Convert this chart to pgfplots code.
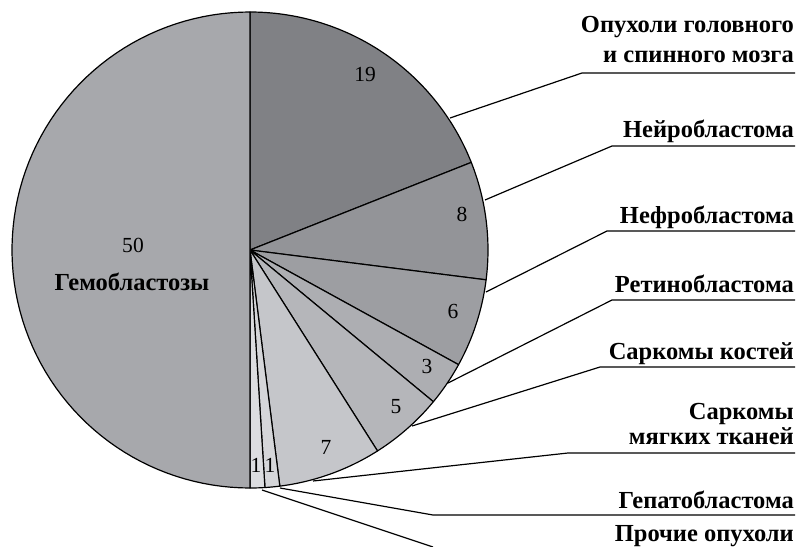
\documentclass[border=0pt]{standalone}
\usepackage{pgfplots}
\pgfplotsset{compat=1.18}
\usepackage{fontspec}
\setmainfont{Liberation Serif}[BoldFont={Liberation Serif Bold}]
\definecolor{s1}{HTML}{808185}
\definecolor{s2}{HTML}{939498}
\definecolor{s3}{HTML}{9D9EA2}
\definecolor{s4}{HTML}{ADAEB2}
\definecolor{s5}{HTML}{B5B6BA}
\definecolor{s6}{HTML}{C5C6CA}
\definecolor{s7}{HTML}{D5D6D9}
\definecolor{s8}{HTML}{DCDDE0}
\definecolor{s9}{HTML}{A7A8AC}
\newcommand\lab{\fontsize{24.5bp}{29bp}\selectfont\bfseries}
\newcommand\num{\fontsize{21.5bp}{25bp}\selectfont}
\begin{document}
\begin{tikzpicture}
\begin{axis}[width=800bp,height=547bp,scale only axis,hide axis,
  xmin=0,xmax=800,ymin=0,ymax=547,y dir=reverse,clip=false,
  anchor=south west,at={(0,0)}]
\def\cum{0}
\pgfplotsforeachungrouped \v/\c in {19/s1,8/s2,6/s3,3/s4,5/s5,7/s6,1/s7,1/s8,50/s9}{%
  \pgfmathsetmacro\a{90-3.6*\cum}%
  \pgfmathsetmacro\b{90-3.6*(\cum+\v)}%
  \edef\doslice{\noexpand\addplot[draw=black,line width=1.2pt,fill=\c,line join=round,domain=\b:\a,samples=80,variable=\noexpand\t] ({250+238*cos(\noexpand\t)},{250-238*sin(\noexpand\t)}) -- (axis cs:250,250) -- cycle;}%
  \doslice
  \pgfmathsetmacro\cum{\cum+\v}%
}
% leader lines
\addplot[black,line width=1.2pt] coordinates {(450,118) (582,73) (795,73)};
\addplot[black,line width=1.2pt] coordinates {(485,200) (612,146) (795,146)};
\addplot[black,line width=1.2pt] coordinates {(486,292) (607,231) (795,231)};
\addplot[black,line width=1.2pt] coordinates {(448,383) (612,300) (795,300)};
\addplot[black,line width=1.2pt] coordinates {(412,426) (600,367) (795,367)};
\addplot[black,line width=1.2pt] coordinates {(313,481) (568,453) (795,453)};
\addplot[black,line width=1.2pt] coordinates {(280,488) (433,515) (795,515)};
\addplot[black,line width=1.2pt] coordinates {(262,490) (433,547)};
% category labels
\node[anchor=base east,inner sep=0pt] at (axis cs:794,33) {\lab Опухоли головного};
\node[anchor=base east,inner sep=0pt] at (axis cs:794,63) {\lab и спинного мозга};
\node[anchor=base east,inner sep=0pt] at (axis cs:794,137) {\lab Нейробластома};
\node[anchor=base east,inner sep=0pt] at (axis cs:794,223) {\lab Нефробластома};
\node[anchor=base east,inner sep=0pt] at (axis cs:794,292) {\lab Ретинобластома};
\node[anchor=base east,inner sep=0pt] at (axis cs:794,359) {\lab Саркомы костей};
\node[anchor=base east,inner sep=0pt] at (axis cs:794,419) {\lab Саркомы};
\node[anchor=base east,inner sep=0pt] at (axis cs:794,444) {\lab мягких тканей};
\node[anchor=base east,inner sep=0pt] at (axis cs:794,508) {\lab Гепатобластома};
\node[anchor=base east,inner sep=0pt] at (axis cs:794,541) {\lab Прочие опухоли};
\node[anchor=base,inner sep=0pt] at (axis cs:132,290) {\lab Гемобластозы};
% values
\node[anchor=base,inner sep=0pt] at (axis cs:133,252) {\num 50};
\node[anchor=base,inner sep=0pt] at (axis cs:365,82) {\num 19};
\node[anchor=base,inner sep=0pt] at (axis cs:462,221) {\num 8};
\node[anchor=base,inner sep=0pt] at (axis cs:453,318) {\num 6};
\node[anchor=base,inner sep=0pt] at (axis cs:427,373) {\num 3};
\node[anchor=base,inner sep=0pt] at (axis cs:396,413) {\num 5};
\node[anchor=base,inner sep=0pt] at (axis cs:326,454) {\num 7};
\node[anchor=base,inner sep=0pt] at (axis cs:256,472) {\num 1};
\node[anchor=base,inner sep=0pt] at (axis cs:270,472) {\num 1};
\end{axis}
\pgfresetboundingbox
\path (0,0) rectangle (800bp,547bp);
\end{tikzpicture}
\end{document}
